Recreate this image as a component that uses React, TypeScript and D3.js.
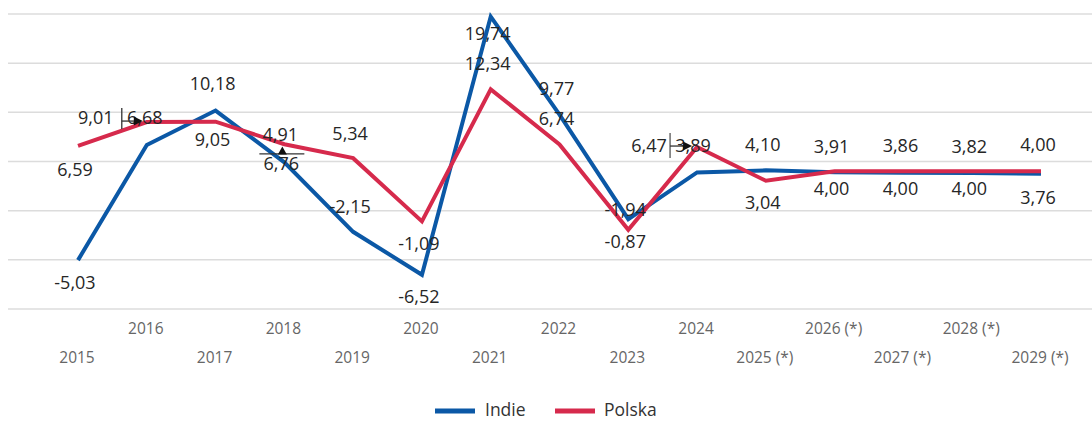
import React from "react";
import * as d3 from "d3";

const years = ["2015","2016","2017","2018","2019","2020","2021","2022","2023","2024","2025 (*)","2026 (*)","2027 (*)","2028 (*)","2029 (*)"];
const india = [-5.03, 6.68, 10.18, 4.91, -2.15, -6.52, 19.74, 9.77, -0.87, 3.89, 4.10, 3.91, 3.86, 3.82, 3.76];
const polska = [6.59, 9.01, 9.05, 6.76, 5.34, -1.09, 12.34, 6.74, -1.94, 6.47, 3.04, 4.00, 4.00, 4.00, 4.00];
const yTicks = [-10, -5, 0, 5, 10, 15, 20];
const seriesNames = ["Indie", "Polska"];

// label vertical offsets (label centre minus point), null = callout label
const indiaDy: (number | null)[] = [22, null, -27, null, -25, 22, 17, -26, 22, null, -26, -26, -27, -27, 24];
const polskaDy: (number | null)[] = [24, null, 18, null, -25, 22, -26, -26, -20, null, 22, 17, 17, 17, -27];

const W = 1092, H = 421;
const BLUE = "#0b58a6";
const RED = "#d62a4c";
const FONT = "'Open Sans', 'Noto Sans', sans-serif";

const fmt = (v: number) => v.toFixed(2).replace(".", ",");

export default function App() {
  const x = d3.scalePoint<string>().domain(years).range([78, 1041]);
  const y = d3.scaleLinear().domain([-10, 20]).range([309, 14]);
  const line = d3.line<number>().x((_, i) => x(years[i])!).y((d) => y(d));

  const labelFs = 18;
  const cy = (c: number) => c + 6.4; // baseline from centre

  const labels: React.ReactNode[] = [];
  const addLabels = (vals: number[], dys: (number | null)[], key: string) => {
    vals.forEach((v, i) => {
      const dy = dys[i];
      if (dy === null) return;
      labels.push(
        <text key={key + i} x={x(years[i])! - 3} y={cy(y(v) + dy)} textAnchor="middle"
          fontSize={labelFs} fill="#262626" fontFamily={FONT}>{fmt(v)}</text>
      );
    });
  };
  addLabels(india, indiaDy, "in");
  addLabels(polska, polskaDy, "pl");

  // callouts
  const i16 = 1, i18 = 3, i24 = 9;
  const x16 = x(years[i16])!, yr16 = y(polska[i16]);
  const x18 = x(years[i18])!, yb18 = y(india[i18]), yr18 = y(polska[i18]);
  const x24 = x(years[i24])!, yr24 = y(polska[i24]);
  const callouts = (
    <g fontFamily={FONT} fontSize={labelFs} fill="#262626">
      {/* 2016 */}
      <text x={x16 - 51} y={cy(yr16 - 4)} textAnchor="middle">{fmt(polska[i16])}</text>
      <text x={x16 - 2} y={cy(yr16 - 4)} textAnchor="middle">{fmt(india[i16])}</text>
      <line x1={x16 - 25} x2={x16 - 25} y1={yr16 - 14} y2={yr16 + 7} stroke="#333" strokeWidth={1.3} />
      <line x1={x16 - 25} x2={x16 - 12} y1={yr16 - 1} y2={yr16 - 1} stroke="#333" strokeWidth={1.3} />
      <path d={`M${x16 - 4},${yr16 - 1} L${x16 - 13},${yr16 - 5.5} L${x16 - 13},${yr16 + 3.5} Z`} fill="#111" />
      {/* 2018 */}
      <text x={x18 - 4} y={cy(yb18 - 27.5)} textAnchor="middle">{fmt(india[i18])}</text>
      <text x={x18 - 3} y={cy(yr18 + 19)} textAnchor="middle">{fmt(polska[i18])}</text>
      <line x1={x18 - 25} x2={x18 + 20} y1={yb18 - 8.5} y2={yb18 - 8.5} stroke="#333" strokeWidth={1.3} />
      <path d={`M${x18 - 2},${yb18 - 16} L${x18 - 6.5},${yb18 - 8} L${x18 + 2.5},${yb18 - 8} Z`} fill="#111" />
      {/* 2024 */}
      <text x={x24 - 48} y={cy(yr24 - 1)} textAnchor="middle">{fmt(polska[i24])}</text>
      <text x={x24 - 4} y={cy(yr24 - 1)} textAnchor="middle">{fmt(india[i24])}</text>
      <line x1={x24 - 27} x2={x24 - 27} y1={yr24 - 14} y2={yr24 + 11} stroke="#555" strokeWidth={1.3} />
      <line x1={x24 - 27} x2={x24 - 14} y1={yr24 - 1} y2={yr24 - 1} stroke="#333" strokeWidth={1.3} />
      <path d={`M${x24 - 5},${yr24 - 1} L${x24 - 14},${yr24 - 5.5} L${x24 - 14},${yr24 + 3.5} Z`} fill="#111" />
    </g>
  );

  return (
    <svg width={W} height={H} style={{ position: "absolute", left: 0, top: 0, background: "#fff" }}
      xmlns="http://www.w3.org/2000/svg">
      <g>
        {yTicks.map((t) => (
          <line key={t} x1={8} x2={W} y1={y(t)} y2={y(t)} stroke="#dcdcdc" strokeWidth={1.5} />
        ))}
      </g>
      <g fontFamily={FONT} fontSize={15.5} fill="#666" textAnchor="middle">
        {years.map((yr, i) => (
          <text key={yr} x={x(yr)! - 1} y={i % 2 === 1 ? 334 : 362.5}>{yr}</text>
        ))}
      </g>
      <path d={line(india)!} fill="none" stroke={BLUE} strokeWidth={4} strokeLinejoin="miter" />
      <path d={line(polska)!} fill="none" stroke={RED} strokeWidth={4} strokeLinejoin="miter" />
      {labels}
      {callouts}
      <g fontFamily={FONT} fontSize={17.5} fill="#333">
        <line x1={435} x2={475} y1={411} y2={411} stroke={BLUE} strokeWidth={5} />
        <text x={485} y={416}>{seriesNames[0]}</text>
        <line x1={555} x2={595} y1={411} y2={411} stroke={RED} strokeWidth={5} />
        <text x={604} y={416}>{seriesNames[1]}</text>
      </g>
    </svg>
  );
}
